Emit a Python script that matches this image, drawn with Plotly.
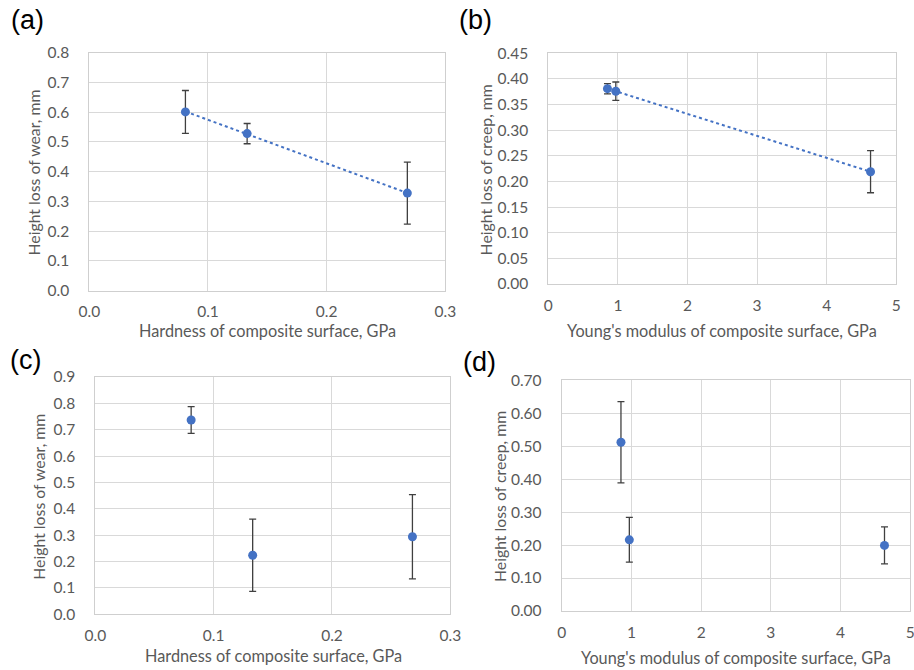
import numpy as np
import plotly.graph_objects as go

# ---------------- data ----------------
hardness = [0.081, 0.133, 0.268]          # GPa, panels (a), (c)
young = [0.85, 0.97, 4.63]                # GPa, panels (b), (d)

wear_a = [0.601, 0.528, 0.328]
wear_a_err = [0.072, 0.034, 0.104]

creep_b = [0.381, 0.376, 0.219]
creep_b_err = [0.010, 0.018, 0.041]

wear_c = [0.737, 0.224, 0.294]
wear_c_err = [0.051, 0.137, 0.160]

creep_d = [0.512, 0.216, 0.199]
creep_d_err = [0.123, 0.068, 0.056]

panel_labels = ["(a)", "(b)", "(c)", "(d)"]
x_titles = ["Hardness of composite surface, GPa",
            "Young's modulus of composite surface, GPa",
            "Hardness of composite surface, GPa",
            "Young's modulus of composite surface, GPa"]
y_titles = ["Height loss of wear, mm", "Height loss of creep, mm",
            "Height loss of wear, mm", "Height loss of creep, mm"]

# ---------------- style ----------------
W, H = 914, 670
BLUE = "#4472C4"
GRID = "#d9d9d9"
TXT = "#595959"
ERR = "#404040"
FONT = "Lato"

fig = go.Figure()

def px_x(p):
    return p / W

def px_y(p):
    return 1 - p / H

# domains from pixel boxes (left, right, top, bottom)
boxes = [(89.3, 445.3, 52.7, 290.7),
         (548.3, 896.3, 53.3, 284.0),
         (95.3, 450.3, 377.0, 614.3),
         (561.7, 910.3, 380.3, 611.0)]

panels = [
    (hardness, wear_a, wear_a_err, True, [0, 0.3], 0.1, ".1f", [0, 0.8], 0.1, ".1f"),
    (young, creep_b, creep_b_err, True, [0, 5], 1, "d", [0, 0.45], 0.05, ".2f"),
    (hardness, wear_c, wear_c_err, False, [0, 0.3], 0.1, ".1f", [0, 0.9], 0.1, ".1f"),
    (young, creep_d, creep_d_err, False, [0, 5], 1, "d", [0, 0.70], 0.1, ".2f"),
]

for i, (xs, ys, es, trend, xr, dx, xf, yr, dy, yf) in enumerate(panels):
    n = "" if i == 0 else str(i + 1)
    xa, ya = "x" + n, "y" + n
    if trend:
        k, b = np.polyfit(xs, ys, 1)
        tx = [min(xs), max(xs)]
        ty = [k * v + b for v in tx]
        fig.add_trace(go.Scatter(x=tx, y=ty, mode="lines", xaxis=xa, yaxis=ya,
                                 line=dict(color=BLUE, width=2, dash="dot"),
                                 showlegend=False, hoverinfo="skip"))
    fig.add_trace(go.Scatter(
        x=xs, y=ys, mode="markers", xaxis=xa, yaxis=ya, showlegend=False,
        marker=dict(color=BLUE, size=9),
        error_y=dict(type="data", array=es, visible=True, color=ERR,
                     thickness=1.3, width=3.5)))
    l, r, t, btm = boxes[i]
    common = dict(showgrid=True, gridcolor=GRID, gridwidth=1, zeroline=False,
                  showline=True, linecolor="#cfcfcf", linewidth=1, mirror=True,
                  automargin=False, ticklabeloverflow="allow",
                  tickfont=dict(family=FONT, size=15.5, color=TXT))
    fig.layout["xaxis" + n] = dict(domain=[px_x(l), px_x(r)], anchor=ya,
                                   range=xr, dtick=dx, tick0=0, tickformat=xf,
                                   ticks="outside", ticklen=7,
                                   tickcolor="rgba(0,0,0,0)", **common)
    fig.layout["yaxis" + n] = dict(domain=[px_y(btm), px_y(t)], anchor=xa,
                                   range=yr, dtick=dy, tick0=0, tickformat=yf,
                                   ticks="outside", ticklen=16,
                                   tickcolor="rgba(0,0,0,0)", **common)

# titles / labels as annotations (pixel positions)
xt_pos = [(267, 331), (722, 331), (273, 655), (736, 657.7)]
yt_pos = [(33, 172.5), (485.7, 169.7), (39, 496.7), (499.3, 496.7)]
lab_pos = [(27, 20), (475, 20), (25, 360), (479.5, 361.7)]

ann = []
for i in range(4):
    ann.append(dict(text=x_titles[i], x=px_x(xt_pos[i][0]), y=px_y(xt_pos[i][1]),
                    xref="paper", yref="paper", showarrow=False,
                    xanchor="center", yanchor="middle",
                    font=dict(family=FONT, size=16.3, color=TXT)))
    ann.append(dict(text=y_titles[i], x=px_x(yt_pos[i][0]), y=px_y(yt_pos[i][1]),
                    xref="paper", yref="paper", showarrow=False, textangle=-90,
                    xanchor="center", yanchor="middle",
                    font=dict(family=FONT, size=15.8, color=TXT)))
    ann.append(dict(text=panel_labels[i], x=px_x(lab_pos[i][0]), y=px_y(lab_pos[i][1]),
                    xref="paper", yref="paper", showarrow=False,
                    xanchor="center", yanchor="middle",
                    font=dict(family="Liberation Sans", size=27, color="#000000")))

fig.update_layout(width=W, height=H, margin=dict(l=0, r=0, t=0, b=0),
                  paper_bgcolor="white", plot_bgcolor="white",
                  annotations=ann)

fig.write_html("out.html")
